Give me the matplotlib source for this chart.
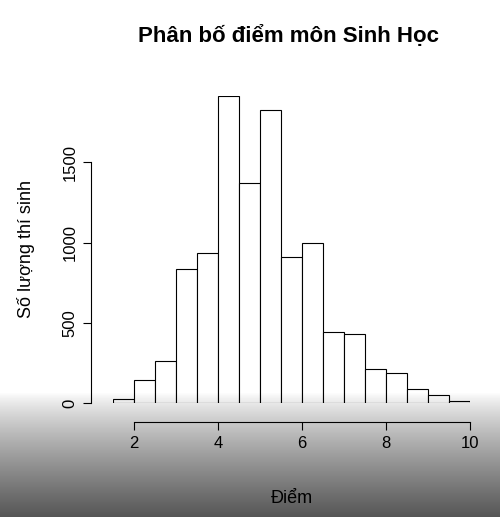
import numpy as np
import matplotlib
matplotlib.use("Agg")
import matplotlib.pyplot as plt

plt.rcParams['font.family'] = ['Liberation Sans', 'DejaVu Sans']

bin_edges = [1.5, 2, 2.5, 3, 3.5, 4, 4.5, 5, 5.5, 6, 6.5, 7, 7.5, 8, 8.5, 9, 9.5, 10]
counts = [25, 145, 260, 835, 935, 1915, 1370, 1830, 910, 1000, 440, 430, 210, 190, 85, 50, 10]
x_ticks = [2, 4, 6, 8, 10]
y_ticks = [0, 500, 1000, 1500]

fig = plt.figure(figsize=(5, 5.17), dpi=100)
ax = fig.add_axes([0.226, 0.2205, 0.714, 0.594])
ax.bar(bin_edges[:-1], counts, width=np.diff(bin_edges), align='edge',
       color='white', edgecolor='black', linewidth=0.8)
ax.set_xlim(1.5, 10)
ax.set_ylim(0, 1915)
for s in ['top', 'right']:
    ax.spines[s].set_visible(False)
ax.spines['bottom'].set_position(('outward', 14))
ax.spines['left'].set_position(('outward', 16))
ax.spines['bottom'].set_bounds(2, 10)
ax.spines['left'].set_bounds(0, 1500)
ax.set_xticks(x_ticks)
ax.set_yticks(y_ticks)
ax.set_yticklabels([str(v) for v in y_ticks], rotation=90, va='center')
ax.tick_params(labelsize=12, length=6)
ax.set_xlabel('Điểm', fontsize=13, labelpad=28)
ax.set_ylabel('Số lượng thí sinh', fontsize=13, labelpad=20)
fig.text(0.578, 0.93, 'Phân bố điểm môn Sinh Học', ha='center', va='center',
         fontsize=16, fontweight='bold')

# dark video-overlay gradient at the bottom
gax = fig.add_axes([0, 0, 1, 0.24], zorder=10)
grad = np.zeros((100, 2, 4))
grad[..., 3] = np.linspace(0.6, 0.0, 100)[:, None] ** 0.8
gax.imshow(grad, aspect='auto', extent=[0, 1, 0, 1], origin='lower')
gax.axis('off')

fig.savefig('out.png', dpi=100)
